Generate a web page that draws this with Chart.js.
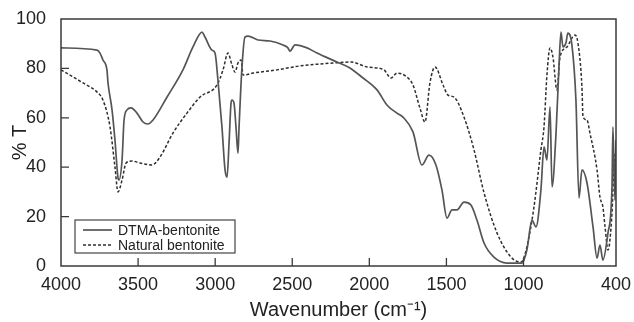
<!DOCTYPE html>
<html>
<head>
<meta charset="utf-8">
<script src="https://cdn.jsdelivr.net/npm/chart.js@4.4.1/dist/chart.umd.min.js"></script>
<style>
  html, body { margin: 0; padding: 0; background: #ffffff; }
  #wrap { width: 634px; height: 322px; }
</style>
</head>
<body>
<div id="wrap"><canvas id="c" width="634" height="322"></canvas></div>
<script>
// ---- Data ----
const seriesNames = ['DTMA-bentonite', 'Natural bentonite'];

const dtmaWavenumber = [4000, 3766, 3747, 3728, 3702, 3695, 3669, 3650, 3630, 3624, 3604, 3591, 3572, 3546, 3507, 3468, 3436, 3403, 3312, 3209, 3144, 3085, 3066, 3021, 3001, 2982, 2956, 2936, 2923, 2910, 2897, 2891, 2878, 2865, 2852, 2845, 2826, 2807, 2787, 2722, 2644, 2560, 2528, 2515, 2482, 2404, 2340, 2210, 2126, 2041, 1950, 1886, 1821, 1782, 1717, 1659, 1613, 1568, 1529, 1496, 1464, 1432, 1386, 1341, 1302, 1256, 1192, 1107, 1010, 978, 945, 919, 887, 867, 848, 828, 815, 789, 770, 757, 744, 725, 712, 686, 660, 640, 621, 588, 549, 523, 504, 485, 452, 426, 420, 407, 400];
const dtmaT = [88.3, 87.4, 86.2, 83.4, 79.4, 74.1, 63.2, 51.0, 35.6, 34.8, 42.9, 59.1, 63.2, 64.0, 61.9, 58.3, 57.5, 59.1, 68.4, 79.4, 88.7, 94.7, 92.7, 87.4, 86.2, 75.3, 56.3, 38.9, 36.0, 49.8, 66.0, 67.2, 66.0, 56.3, 45.7, 56.3, 80.6, 92.7, 93.1, 91.5, 91.1, 89.5, 88.3, 87.0, 89.5, 88.3, 86.2, 82.6, 80.2, 76.1, 71.3, 65.2, 61.9, 60.3, 54.3, 40.9, 44.9, 40.9, 30.8, 19.4, 22.7, 22.7, 25.9, 24.7, 18.6, 9.3, 3.6, 1.2, 1.2, 6.5, 18.6, 15.8, 30.8, 48.2, 42.9, 64.4, 32.0, 53.8, 80.6, 94.7, 88.7, 90.3, 94.3, 89.5, 67.2, 27.5, 38.9, 33.6, 15.8, 3.2, 8.5, 2.4, 13.4, 32.0, 56.3, 26.7, 51.0];

const naturalWavenumber = [4000, 3857, 3766, 3728, 3682, 3650, 3630, 3604, 3578, 3539, 3488, 3410, 3358, 3274, 3183, 3098, 2988, 2949, 2917, 2891, 2871, 2852, 2832, 2819, 2755, 2599, 2450, 2320, 2229, 2119, 2015, 1905, 1860, 1821, 1756, 1717, 1672, 1639, 1607, 1574, 1522, 1490, 1451, 1386, 1321, 1256, 1172, 1081, 1016, 978, 932, 887, 867, 848, 828, 809, 783, 763, 718, 666, 647, 621, 614, 588, 569, 523, 504, 485, 471, 452, 426, 413, 400];
const naturalT = [79.4, 74.1, 70.4, 67.2, 56.3, 40.1, 30.0, 34.8, 41.7, 42.5, 41.7, 40.9, 44.1, 53.8, 61.9, 68.4, 73.3, 79.4, 86.2, 81.4, 78.5, 82.2, 83.4, 77.3, 78.1, 79.4, 81.0, 81.8, 82.2, 82.6, 80.6, 79.4, 76.1, 78.1, 76.5, 73.3, 64.0, 58.3, 74.1, 80.6, 73.3, 69.2, 68.4, 60.3, 47.0, 29.6, 13.4, 3.6, 1.6, 7.7, 23.9, 47.0, 56.3, 77.3, 88.3, 84.6, 71.3, 84.6, 88.7, 93.5, 90.3, 72.5, 60.3, 59.1, 53.8, 38.9, 27.9, 23.9, 15.8, 6.5, 21.5, 40.9, 47.0];

const xTickValues = [4000, 3500, 3000, 2500, 2000, 1500, 1000, 400];
const yTickValues = [0, 20, 40, 60, 80, 100];

const xTitle = 'Wavenumber (cm\u207B\u00B9)';
const yTitle = '% T';

// ---- Helpers ----
function pairs(xs, ys) { return xs.map((x, i) => ({ x: x, y: ys[i] })); }
const FONT = '"Liberation Sans", Arial, Helvetica, sans-serif';
const INK = '#222222';

// Frame + inward ticks plugin
const framePlugin = {
  id: 'frame',
  afterDatasetsDraw(chart) {
    const { ctx, chartArea: a, scales } = chart;
    ctx.save();
    ctx.strokeStyle = '#3a3a3a';
    ctx.lineWidth = 1.5;
    ctx.strokeRect(a.left, a.top, a.right - a.left, a.bottom - a.top);
    ctx.lineWidth = 1.3;
    ctx.beginPath();
    const tl = 8;
    scales.x.ticks.forEach(t => {
      if (t.value === scales.x.min || t.value === scales.x.max) return;
      const px = scales.x.getPixelForValue(t.value);
      ctx.moveTo(px, a.bottom);
      ctx.lineTo(px, a.bottom - tl);
    });
    scales.y.ticks.forEach(t => {
      if (t.value === scales.y.min || t.value === scales.y.max) return;
      const py = scales.y.getPixelForValue(t.value);
      ctx.moveTo(a.left, py);
      ctx.lineTo(a.left + tl, py);
    });
    ctx.stroke();
    ctx.restore();
  }
};

// Boxed legend inside the plot (lower-left)
const boxLegendPlugin = {
  id: 'boxLegend',
  afterDraw(chart) {
    const { ctx, chartArea: a } = chart;
    const x0 = a.left + 14, y0 = a.bottom - 46, w = 160, h = 33;
    ctx.save();
    ctx.fillStyle = '#ffffff';
    ctx.fillRect(x0, y0, w, h);
    ctx.strokeStyle = '#444444';
    ctx.lineWidth = 1.2;
    ctx.strokeRect(x0, y0, w, h);
    ctx.font = '14px ' + FONT;
    ctx.textBaseline = 'middle';
    ctx.textAlign = 'left';
    chart.data.datasets.forEach((ds, i) => {
      const yy = y0 + 10 + i * 15;
      ctx.strokeStyle = ds.borderColor;
      ctx.lineWidth = ds.borderWidth;
      ctx.setLineDash(ds.borderDash || []);
      ctx.beginPath();
      ctx.moveTo(x0 + 8, yy);
      ctx.lineTo(x0 + 37, yy);
      ctx.stroke();
      ctx.setLineDash([]);
      ctx.fillStyle = INK;
      ctx.fillText(ds.label, x0 + 43, yy + 1);
    });
    ctx.restore();
  }
};

new Chart(document.getElementById('c'), {
  type: 'line',
  data: {
    datasets: [
      {
        label: seriesNames[0],
        data: pairs(dtmaWavenumber, dtmaT),
        borderColor: '#555555',
        borderWidth: 1.7,
        pointRadius: 0,
        fill: false,
        cubicInterpolationMode: 'monotone'
      },
      {
        label: seriesNames[1],
        data: pairs(naturalWavenumber, naturalT),
        borderColor: '#2e2e2e',
        borderWidth: 1.5,
        borderDash: [3, 2],
        pointRadius: 0,
        fill: false,
        cubicInterpolationMode: 'monotone'
      }
    ]
  },
  options: {
    responsive: false,
    animation: false,
    devicePixelRatio: 1,
    layout: { padding: { left: 0, right: 18, top: 19, bottom: 0 } },
    plugins: {
      legend: { display: false },
      tooltip: { enabled: false }
    },
    scales: {
      x: {
        type: 'linear',
        reverse: true,
        min: 400,
        max: 4000,
        afterBuildTicks(scale) { scale.ticks = xTickValues.map(v => ({ value: v })); },
        afterFit(scale) { scale.height = 56; },
        grid: { display: false },
        border: { display: false },
        ticks: {
          autoSkip: false,
          maxRotation: 0,
          padding: 0,
          color: INK,
          font: { family: FONT, size: 18 },
          callback: (v) => String(v)
        },
        title: {
          display: true,
          text: xTitle,
          color: INK,
          font: { family: FONT, size: 20 },
          padding: { top: 0, bottom: 0 }
        }
      },
      y: {
        type: 'linear',
        min: 0,
        max: 100,
        afterBuildTicks(scale) { scale.ticks = yTickValues.map(v => ({ value: v })); },
        afterFit(scale) { scale.width = 61; },
        grid: { display: false },
        border: { display: false },
        ticks: {
          padding: 7,
          color: INK,
          font: { family: FONT, size: 18 },
          callback: (v) => String(v)
        },
        title: {
          display: true,
          text: yTitle,
          color: INK,
          font: { family: FONT, size: 20 },
          padding: { top: 8, bottom: 0 }
        }
      }
    }
  },
  plugins: [framePlugin, boxLegendPlugin]
});
</script>
</body>
</html>
